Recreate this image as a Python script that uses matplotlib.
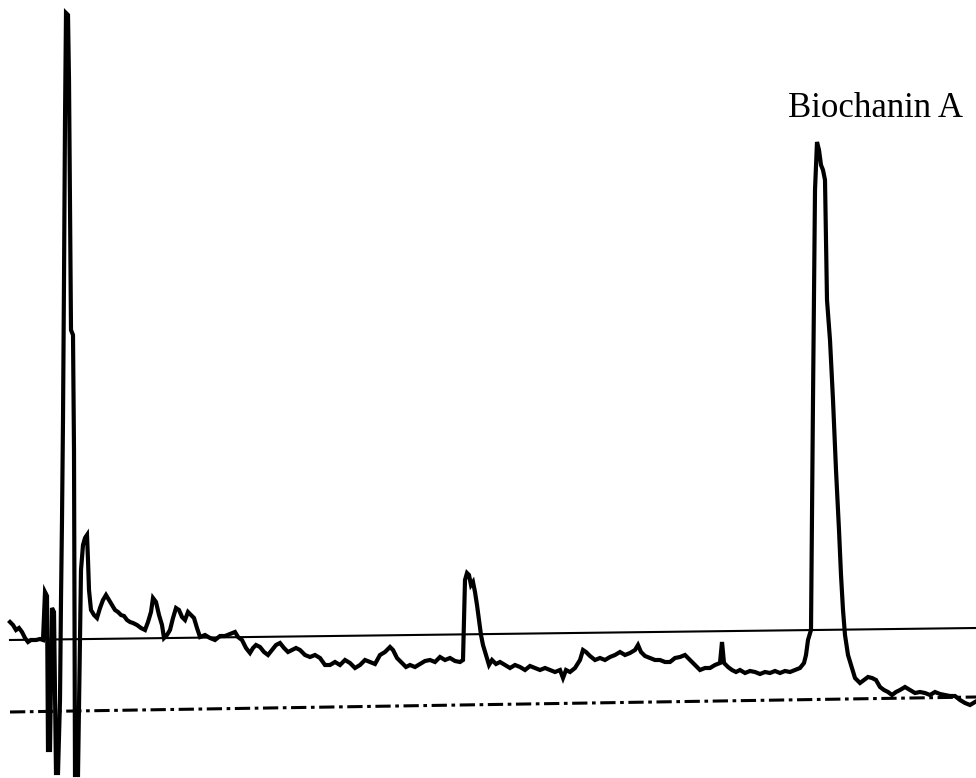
import matplotlib.pyplot as plt

# chromatogram trace (x = retention position, y = detector row, top = 0)
trace_x = [10, 13, 16, 19, 22, 25, 28, 31, 36, 40, 43, 45, 47, 48, 50, 52, 54, 56, 58, 60,
           61, 62, 63, 64, 65, 66, 68, 69, 70, 71, 73, 74, 75, 78, 80, 81, 83, 85, 87, 88,
           89, 91, 94, 97, 100, 103, 106, 109, 112, 115, 118, 121, 124, 127, 130, 133, 137, 141, 145, 148,
           151, 153, 156, 159, 162, 164, 167, 170, 173, 176, 179, 182, 185, 188, 191, 194, 197, 200, 205, 210,
           215, 220, 225, 230, 235, 238, 242, 246, 250, 253, 256, 260, 264, 268, 272, 276, 280, 284, 288, 292,
           296, 300, 305, 310, 315, 320, 325, 330, 335, 340, 345, 350, 355, 360, 365, 370, 375, 380, 385, 390,
           393, 397, 402, 406, 410, 415, 420, 425, 430, 435, 440, 445, 450, 455, 460, 463, 465, 467, 469, 471,
           473, 475, 477, 479, 481, 483, 486, 489, 492, 496, 500, 505, 510, 515, 520, 525, 530, 535, 540, 545,
           550, 555, 560, 563, 566, 570, 575, 580, 583, 586, 590, 595, 600, 605, 610, 615, 620, 625, 630, 635,
           638, 641, 645, 650, 655, 660, 665, 670, 675, 680, 685, 690, 695, 700, 705, 710, 715, 720, 722, 724,
           728, 732, 736, 740, 745, 750, 755, 760, 765, 770, 775, 780, 785, 790, 795, 800, 804, 806, 808, 811,
           813, 815, 817, 819, 821, 823, 825, 827, 830, 833, 836, 839, 841, 843, 845, 848, 851, 855, 860, 864,
           868, 872, 876, 880, 884, 888, 892, 896, 900, 905, 910, 915, 920, 925, 930, 935, 940, 945, 950, 955,
           960, 965, 970, 975]
trace_y = [622, 625, 630, 628, 632, 638, 642, 640, 640, 639, 640, 592, 596, 750, 750, 608, 612, 773, 773, 700,
           600, 520, 420, 280, 120, 13, 15, 80, 200, 330, 335, 450, 775, 775, 640, 570, 545, 538, 535, 560,
           590, 610, 615, 618, 608, 600, 595, 600, 605, 610, 612, 615, 616, 620, 622, 623, 625, 628, 630, 622,
           612, 598, 602, 615, 625, 638, 635, 630, 618, 608, 610, 617, 620, 612, 615, 618, 628, 637, 635, 638,
           640, 636, 636, 634, 632, 637, 640, 648, 653, 648, 645, 647, 652, 655, 650, 645, 643, 648, 652, 650,
           648, 650, 655, 657, 655, 658, 665, 665, 662, 665, 660, 663, 668, 665, 660, 662, 664, 655, 652, 647,
           650, 658, 663, 667, 665, 667, 664, 661, 660, 662, 657, 660, 658, 661, 662, 660, 580, 573, 575, 585,
           582, 592, 605, 620, 635, 645, 655, 665, 660, 664, 662, 665, 668, 665, 667, 670, 666, 668, 670, 668,
           670, 672, 670, 678, 670, 672, 668, 660, 650, 652, 656, 660, 658, 660, 657, 655, 652, 655, 653, 650,
           645, 652, 656, 658, 660, 660, 662, 662, 658, 657, 655, 660, 665, 670, 668, 668, 665, 663, 642, 663,
           667, 670, 672, 670, 673, 671, 672, 674, 672, 673, 671, 673, 671, 672, 670, 668, 663, 655, 640, 630,
           400, 190, 142, 150, 165, 170, 180, 300, 340, 400, 470, 530, 575, 610, 635, 655, 665, 678, 683, 680,
           677, 678, 680, 687, 690, 692, 695, 692, 690, 687, 690, 693, 692, 693, 695, 692, 694, 695, 696, 696,
           700, 703, 705, 702]

# reference lines (end points)
solid_x = [10, 976]
solid_y = [640, 628]
dashdot_x = [10, 976]
dashdot_y = [712, 697]

peak_label = "Biochanin A"

fig = plt.figure(figsize=(9.76, 7.78), dpi=100)
ax = fig.add_axes([0, 0, 1, 1])

ax.plot(solid_x, solid_y, color='black', lw=1.5)
ax.plot(dashdot_x, dashdot_y, color='black', lw=2.2, linestyle=(0, (5, 1.5, 1.2, 1.5)))
ax.plot(trace_x, trace_y, color='black', lw=3.0, solid_joinstyle='miter')

ax.text(876, 108, peak_label, ha='center', va='center', fontsize=25,
        family='Liberation Serif', color='black')

ax.set_xlim(0, 976)
ax.set_ylim(778, 0)
ax.axis('off')

fig.savefig('out.png', dpi=100, facecolor='white')
